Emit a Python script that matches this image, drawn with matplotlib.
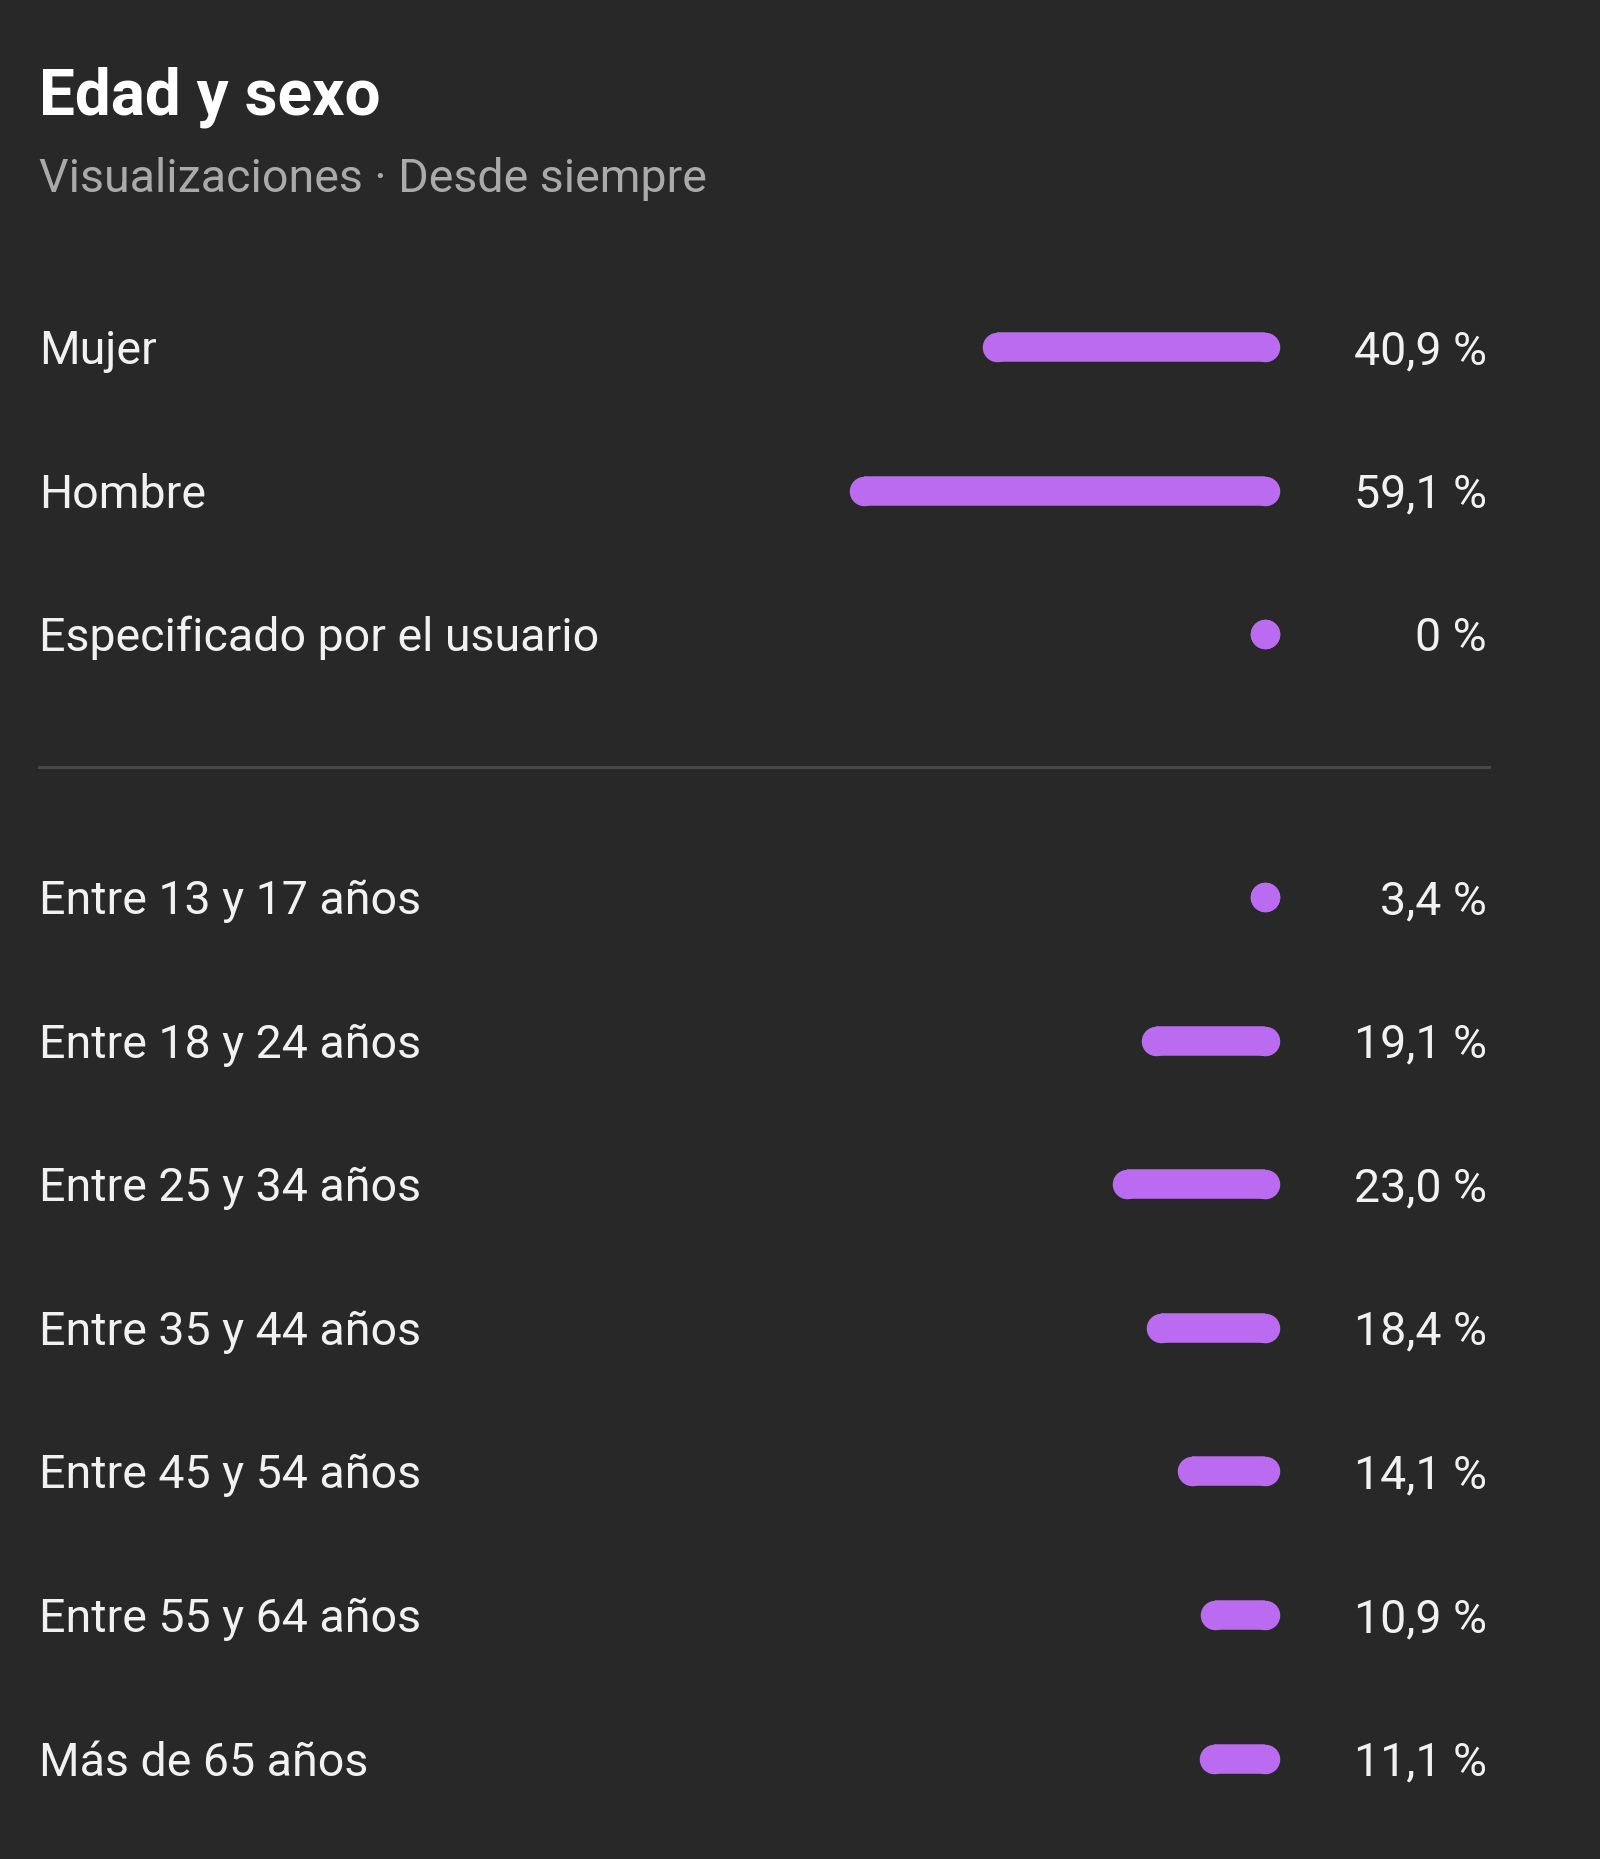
import matplotlib
matplotlib.use("Agg")
import matplotlib.pyplot as plt

# ---- data ----
title = "Edad y sexo"
subtitle = "Visualizaciones · Desde siempre"
gender_labels = ["Mujer", "Hombre", "Especificado por el usuario"]
gender_values = [40.9, 59.1, 0.0]
gender_texts = ["40,9 %", "59,1 %", "0 %"]
age_labels = ["Entre 13 y 17 años", "Entre 18 y 24 años", "Entre 25 y 34 años",
              "Entre 35 y 44 años", "Entre 45 y 54 años", "Entre 55 y 64 años",
              "Más de 65 años"]
age_values = [3.4, 19.1, 23.0, 18.4, 14.1, 10.9, 11.1]
age_texts = ["3,4 %", "19,1 %", "23,0 %", "18,4 %", "14,1 %", "10,9 %", "11,1 %"]

# ---- style ----
W, H = 1600, 1859
DPI = 100
BG = "#282828"
BAR = "#bb6bf0"
TXT = "#f1f1f1"
SUB = "#aaaaaa"
SEP = "#474747"
FONT = ["Roboto", "DejaVu Sans"]

fig = plt.figure(figsize=(W / DPI, H / DPI), dpi=DPI, facecolor=BG)
ax = fig.add_axes([0, 0, 1, 1])
ax.set_xlim(0, W)
ax.set_ylim(H, 0)
ax.axis("off")
ax.set_facecolor(BG)

# bar axes: x in percent, 0 at right end (px 1280), 7.29 px per percent
PX_PER_PCT = 7.29
BAR_RIGHT = 1280
span = 100 * PX_PER_PCT
bax = fig.add_axes([(BAR_RIGHT - span) / W, 0, span / W, 1])
bax.set_xlim(100, 0)
bax.set_ylim(H, 0)
bax.axis("off")
bax.patch.set_alpha(0)

BAR_W_PX = 29.5
lw_pt = BAR_W_PX * 72 / DPI
cap_pct = BAR_W_PX / PX_PER_PCT

x_label = 39
x_pct = 1487
row0 = 347
step = 143.6
sep_y = 767
age0 = 897
LABEL_FS = 33.5

ax.text(x_label, 114, title, color="white", fontsize=46, fontweight="bold",
        family=FONT, va="baseline", ha="left")
ax.text(x_label, 192, subtitle, color=SUB, fontsize=33.5, family=FONT,
        va="baseline", ha="left")


def draw_row(y, label, value, text):
    ax.text(x_label, y + 17, label, color=TXT, fontsize=LABEL_FS, family=FONT,
            va="baseline", ha="left")
    ax.text(x_pct, y + 17, text, color=TXT, fontsize=LABEL_FS, family=FONT,
            va="baseline", ha="right")
    total = max(value, cap_pct)
    x0 = total - cap_pct / 2
    x1 = cap_pct / 2
    bax.plot([x0, x1], [y, y], color=BAR, lw=lw_pt, solid_capstyle="butt",
             marker="o", markersize=lw_pt, markeredgewidth=0,
             markerfacecolor=BAR)


for i, (l, v, t) in enumerate(zip(gender_labels, gender_values, gender_texts)):
    draw_row(row0 + i * step, l, v, t)

ax.plot([39, 1489], [sep_y, sep_y], color=SEP, lw=2.2)

for i, (l, v, t) in enumerate(zip(age_labels, age_values, age_texts)):
    draw_row(age0 + i * step, l, v, t)

fig.savefig("out.png", dpi=DPI, facecolor=BG)
